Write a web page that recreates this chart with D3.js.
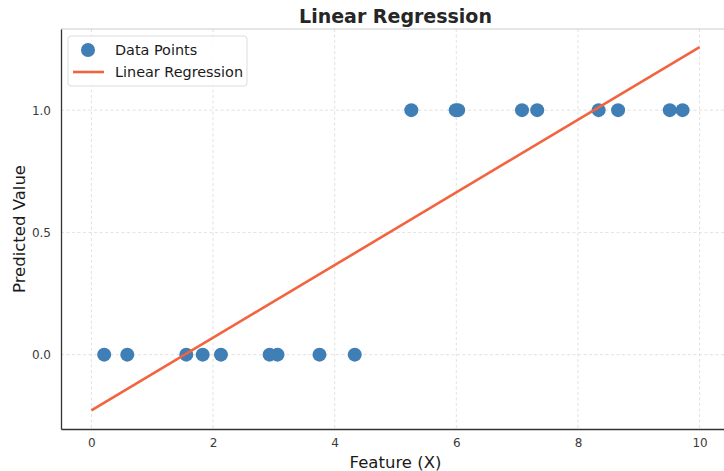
<!DOCTYPE html>
<html>
<head>
<meta charset="utf-8">
<script src="https://cdn.jsdelivr.net/npm/d3@7"></script>
<style>
  body { margin: 0; background: #fff; }
  svg { font-family: "DejaVu Sans", sans-serif; display: block; }
</style>
</head>
<body>
<div id="chart"></div>
<script>
// Linear regression fit over a binary target

var pointX = [0.21, 0.59, 1.56, 1.83, 2.13, 2.93, 3.06, 3.75, 4.33,
              5.26, 5.99, 6.03, 7.08, 7.33, 8.34, 8.66, 9.51, 9.72];
var pointY = [0, 0, 0, 0, 0, 0, 0, 0, 0,
              1, 1, 1, 1, 1, 1, 1, 1, 1];

var lineX = [0, 10];
var lineY = [-0.228, 1.258];

var xTicks = [0, 2, 4, 6, 8, 10];
var yTicks = [0.0, 0.5, 1.0];

var POINT_COLOR = '#3f7fb6';
var LINE_COLOR = '#f2643f';

var width = 724, height = 471;
var margin = { top: 29, right: -6, bottom: 42, left: 61 };

var svg = d3.select('#chart').append('svg')
    .attr('width', width)
    .attr('height', height);

var xScale = d3.scaleLinear()
    .domain([-0.5, 10.5])
    .range([margin.left, width - margin.right]);

var yScale = d3.scaleLinear()
    .domain([-0.304, 1.332])
    .range([height - margin.bottom, margin.top]);

// Grid
var grid = svg.append('g').attr('class', 'grid');
grid.selectAll('line.gx')
    .data(xTicks)
    .join('line')
    .attr('class', 'gx')
    .attr('x1', function(d) { return xScale(d); })
    .attr('x2', function(d) { return xScale(d); })
    .attr('y1', yScale.range()[1])
    .attr('y2', yScale.range()[0])
    .attr('stroke', '#d9d9d9')
    .attr('stroke-width', 0.8)
    .attr('stroke-dasharray', '3,2.5');
grid.selectAll('line.gy')
    .data(yTicks)
    .join('line')
    .attr('class', 'gy')
    .attr('x1', xScale.range()[0])
    .attr('x2', xScale.range()[1])
    .attr('y1', function(d) { return yScale(d); })
    .attr('y2', function(d) { return yScale(d); })
    .attr('stroke', '#d9d9d9')
    .attr('stroke-width', 0.8)
    .attr('stroke-dasharray', '3,2.5');

// Top spine (light)
svg.append('line')
    .attr('x1', xScale.range()[0]).attr('x2', xScale.range()[1])
    .attr('y1', yScale.range()[1]).attr('y2', yScale.range()[1])
    .attr('stroke', '#cccccc').attr('stroke-width', 1);

// Axes
var xAxis = svg.append('g')
    .attr('transform', 'translate(0,' + yScale.range()[0] + ')')
    .call(d3.axisBottom(xScale).tickValues(xTicks).tickSize(0).tickPadding(9)
        .tickFormat(d3.format('d')));
var yAxis = svg.append('g')
    .attr('transform', 'translate(' + xScale.range()[0] + ',0)')
    .call(d3.axisLeft(yScale).tickValues(yTicks).tickSize(0).tickPadding(10)
        .tickFormat(d3.format('.1f')));

[xAxis, yAxis].forEach(function(ax) {
    ax.select('.domain').attr('stroke', '#333').attr('stroke-width', 1.3);
    ax.selectAll('text').attr('fill', '#3a3a3a').style('font-size', '12px')
        .style('font-family', '"DejaVu Sans", sans-serif');
});

// Scatter points
svg.append('g').selectAll('circle')
    .data(pointX.map(function(x, i) { return { x: x, y: pointY[i] }; }))
    .join('circle')
    .attr('cx', function(d) { return xScale(d.x); })
    .attr('cy', function(d) { return yScale(d.y); })
    .attr('r', 7)
    .attr('fill', POINT_COLOR);

// Regression line
var line = d3.line()
    .x(function(d) { return xScale(d[0]); })
    .y(function(d) { return yScale(d[1]); });
svg.append('path')
    .datum(lineX.map(function(x, i) { return [x, lineY[i]]; }))
    .attr('d', line)
    .attr('fill', 'none')
    .attr('stroke', LINE_COLOR)
    .attr('stroke-width', 2.6);

// Title and labels
var cx = (xScale.range()[0] + xScale.range()[1]) / 2;
svg.append('text')
    .attr('x', cx).attr('y', 23)
    .attr('text-anchor', 'middle')
    .style('font-size', '19px').style('font-weight', 'bold')
    .attr('fill', '#262626')
    .text('Linear Regression');
svg.append('text')
    .attr('x', cx).attr('y', 468)
    .attr('text-anchor', 'middle')
    .style('font-size', '16.5px')
    .attr('fill', '#1a1a1a')
    .text('Feature (X)');
svg.append('text')
    .attr('transform', 'translate(25,' + ((yScale.range()[0] + yScale.range()[1]) / 2) + ') rotate(-90)')
    .attr('text-anchor', 'middle')
    .style('font-size', '16.5px')
    .attr('fill', '#1a1a1a')
    .text('Predicted Value');

// Legend
var legend = svg.append('g').attr('transform', 'translate(68,36)');
legend.append('rect')
    .attr('width', 179).attr('height', 50)
    .attr('rx', 3)
    .attr('fill', '#fff').attr('fill-opacity', 0.85)
    .attr('stroke', '#dddddd');
legend.append('circle')
    .attr('cx', 20).attr('cy', 14).attr('r', 7)
    .attr('fill', POINT_COLOR);
legend.append('line')
    .attr('x1', 5).attr('x2', 36).attr('y1', 36).attr('y2', 36)
    .attr('stroke', LINE_COLOR).attr('stroke-width', 2.6);
legend.append('text')
    .attr('x', 47).attr('y', 19)
    .style('font-size', '14.4px').attr('fill', '#1a1a1a')
    .text('Data Points');
legend.append('text')
    .attr('x', 47).attr('y', 41)
    .style('font-size', '14.4px').attr('fill', '#1a1a1a')
    .text('Linear Regression');
</script>
</body>
</html>
